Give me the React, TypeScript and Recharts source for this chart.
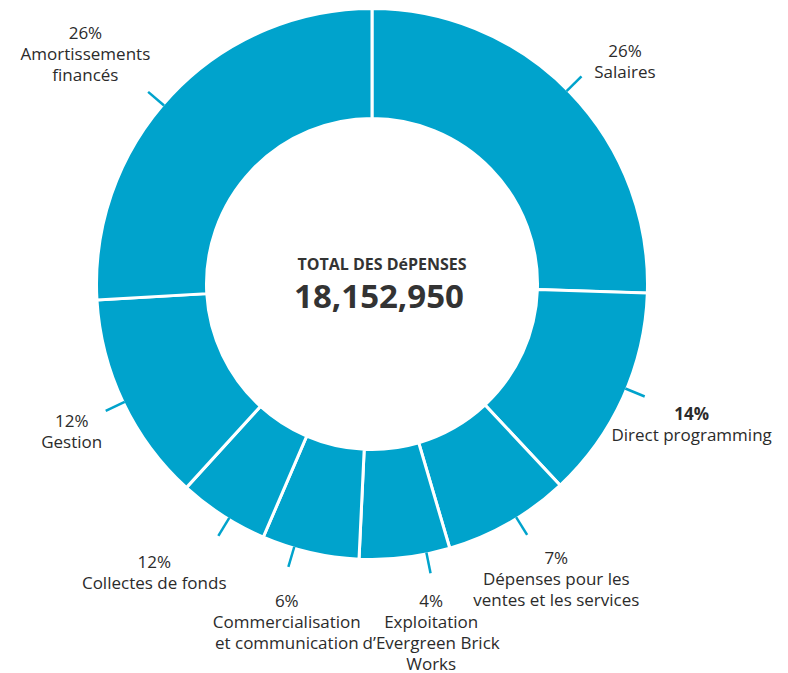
import { PieChart, Pie, Cell } from 'recharts'

const CATEGORIES = [
  'Salaires',
  'Direct programming',
  'Dépenses pour les ventes et les services',
  'Exploitation d’Evergreen Brick Works',
  'Commercialisation et communication',
  'Collectes de fonds',
  'Gestion',
  'Amortissements financés',
]
const SHARES = [25.5, 12.5, 7.4, 5.3, 5.7, 5.3, 12.3, 25.9]
const PCT_LABELS = ['26%', '14%', '7%', '4%', '6%', '12%', '12%', '26%']
const LABEL_LINES = [
  ['Salaires'],
  ['Direct programming'],
  ['Dépenses pour les', 'ventes et les services'],
  ['Exploitation', 'd’Evergreen Brick', 'Works'],
  ['Commercialisation', 'et communication'],
  ['Collectes de fonds'],
  ['Gestion'],
  ['Amortissements', 'financés'],
]
const TOTAL_TITLE = 'TOTAL DES DéPENSES'
const TOTAL_VALUE = '18,152,950'

const data = CATEGORIES.map((name, i) => ({ name, value: SHARES[i] }))

// label placement relative to the end of each tick
const LAYOUT = [
  { dx: 41, dy: -28, tickShift: -0.7, bold: false },
  { dx: 51, dy: 8, tickShift: -2, bold: true },
  { dx: 38, dy: 17, tickShift: -2, bold: false },
  { dx: 24, dy: 24, tickShift: -4.6, bold: false },
  { dx: -19, dy: 29, tickShift: 3.5, bold: false },
  { dx: -58, dy: 30, tickShift: -1.4, bold: false },
  { dx: -34, dy: 10, tickShift: 0, bold: false },
  { dx: -72, dy: -49, tickShift: -2.7, bold: false },
]

const BLUE = '#00a3cc'
const TEXT = '#2b2b2b'
const FONT = '"Open Sans", "Noto Sans", sans-serif'
const RAD = Math.PI / 180
const TICK_LEN = 21
const LINE_H = 21

// eslint-disable-next-line @typescript-eslint/no-explicit-any
function SliceLabel(props: any) {
  const { cx, cy, midAngle, outerRadius, index } = props
  const lay = LAYOUT[index]
  const theta = 90 - midAngle // clockwise from 12 o'clock
  const r0 = outerRadius - 1.5
  const r1 = r0 + TICK_LEN
  const t = (theta + lay.tickShift) * RAD
  const bx = cx + r1 * Math.sin(theta * RAD)
  const by = cy - r1 * Math.cos(theta * RAD)
  const tx = bx + lay.dx
  const ty = by + lay.dy
  return (
    <g>
      {/* centre total, drawn once with the first slice */}
      {index === 0 && (
        <g fill="#333" fontFamily={FONT} fontWeight={700} textAnchor="middle">
          <text x={cx + 10} y={cy - 20} fontSize={16} dominantBaseline="central">{TOTAL_TITLE}</text>
          <text x={cx + 7} y={cy + 11} fontSize={33} dominantBaseline="central">{TOTAL_VALUE}</text>
        </g>
      )}
      <line
        x1={cx + r0 * Math.sin(t)} y1={cy - r0 * Math.cos(t)}
        x2={cx + r1 * Math.sin(t)} y2={cy - r1 * Math.cos(t)}
        stroke={BLUE} strokeWidth={2.5}
      />
      <g fill={TEXT} fontFamily={FONT} fontSize={17} textAnchor="middle">
        <text x={tx} y={ty} dominantBaseline="central" fontWeight={lay.bold ? 700 : 500}>
          {PCT_LABELS[index]}
        </text>
        {LABEL_LINES[index].map((line, i) => (
          <text key={i} x={tx} y={ty + (i + 1) * LINE_H} dominantBaseline="central">{line}</text>
        ))}
      </g>
    </g>
  )
}

export default function App() {
  return (
    <PieChart width={780} height={665} margin={{ top: 0, right: 0, bottom: 0, left: 0 }}>
      <Pie
        data={data}
        dataKey="value"
        cx={364}
        cy={276}
        innerRadius={165.5}
        outerRadius={275.5}
        startAngle={90}
        endAngle={-270}
        stroke="#fff"
        strokeWidth={3}
        labelLine={false}
        label={SliceLabel}
        isAnimationActive={false}
      >
        {data.map((d) => (
          <Cell key={d.name} fill={BLUE} />
        ))}
      </Pie>
    </PieChart>
  )
}
